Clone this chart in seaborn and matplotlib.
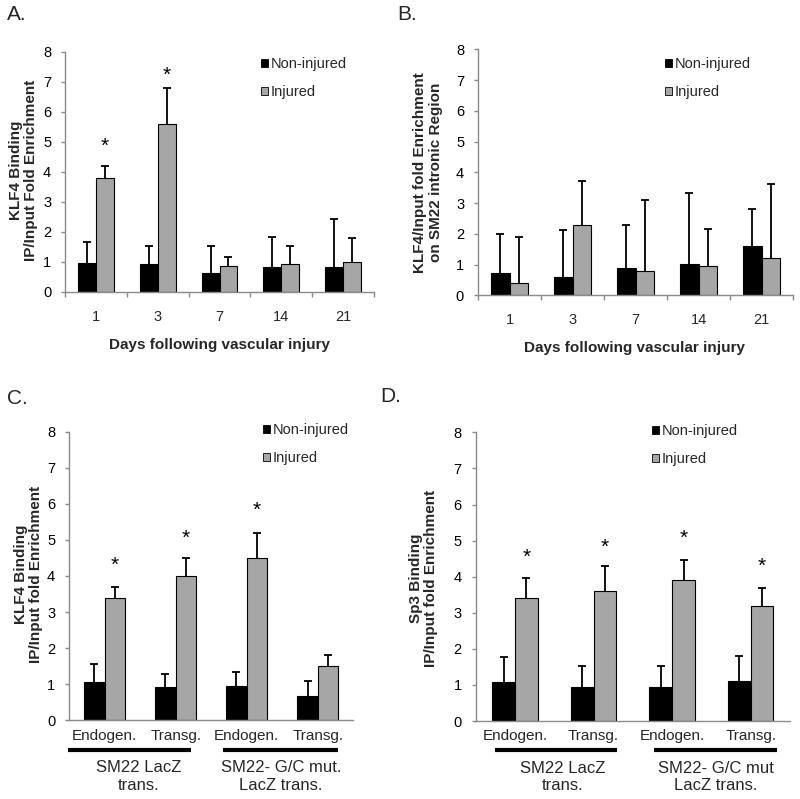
import matplotlib
matplotlib.use("Agg")
import matplotlib.pyplot as plt
import matplotlib.transforms as mtransforms
from matplotlib.patches import Patch
import numpy as np
import pandas as pd
import seaborn as sns

# ---------------- data ----------------
conditions = ["Non-injured", "Injured"]

A_days = ["1", "3", "7", "14", "21"]
A_non = [0.96, 0.93, 0.63, 0.82, 0.83]
A_non_top = [1.67, 1.53, 1.53, 1.81, 2.43]
A_inj = [3.79, 5.60, 0.86, 0.91, 0.98]
A_inj_top = [4.19, 6.80, 1.16, 1.51, 1.78]
A_star = [4.85, 7.2, None, None, None]

B_days = ["1", "3", "7", "14", "21"]
B_non = [0.71, 0.61, 0.90, 1.01, 1.61]
B_non_top = [2.00, 2.11, 2.30, 3.32, 2.80]
B_inj = [0.40, 2.30, 0.80, 0.95, 1.21]
B_inj_top = [1.90, 3.71, 3.11, 2.15, 3.62]

group_ids = ["LacZ Endogen.", "LacZ Transg.", "Mut Endogen.", "Mut Transg."]
group_ticklabels = ["Endogen.", "Transg.", "Endogen.", "Transg."]

C_non = [1.07, 0.93, 0.95, 0.67]
C_non_top = [1.57, 1.27, 1.35, 1.10]
C_inj = [3.40, 4.00, 4.50, 1.50]
C_inj_top = [3.70, 4.50, 5.20, 1.80]
C_star = [4.3, 5.04, 5.83, None]
C_groups = ["SM22 LacZ\ntrans.", "SM22- G/C mut.\nLacZ trans."]

D_non = [1.08, 0.93, 0.95, 1.10]
D_non_top = [1.78, 1.53, 1.52, 1.80]
D_inj = [3.40, 3.60, 3.90, 3.20]
D_inj_top = [3.97, 4.30, 4.47, 3.70]
D_star = [4.55, 4.8, 5.06, 4.3]
D_groups = ["SM22 LacZ\ntrans.", "SM22- G/C mut\nLacZ trans."]

# ---------------- style ----------------
sns.set_theme(style="white")
plt.rcParams["font.family"] = ["Liberation Sans", "DejaVu Sans"]

BLACK = "#000000"
GRAY = "#a6a6a6"
SPINE = "#8a8a8a"
palette = {"Non-injured": BLACK, "Injured": GRAY}
LABEL_FS = 11
TICK_FS = 10.5

fig = plt.figure(figsize=(8, 7.99), dpi=100)

axA = fig.add_axes([0.0813, 0.6349, 0.3862, 0.3004])
axB = fig.add_axes([0.5975, 0.6304, 0.3938, 0.3079])
axC = fig.add_axes([0.0863, 0.0985, 0.3554, 0.3612])
axD = fig.add_axes([0.5946, 0.0976, 0.3929, 0.3613])


def draw_panel(ax, cats, non, non_top, inj, inj_top, stars=None):
    n = len(cats)
    df = pd.DataFrame({
        "cat": list(cats) * 2,
        "cond": ["Non-injured"] * n + ["Injured"] * n,
        "val": list(non) + list(inj),
    })
    sns.barplot(data=df, x="cat", y="val", hue="cond", order=list(cats),
                hue_order=conditions, palette=palette, width=0.58,
                edgecolor="black", linewidth=0.8, errorbar=None,
                legend=False, ax=ax, zorder=2)
    for cont, vals, tops in zip(ax.containers[:2], [non, inj], [non_top, inj_top]):
        xs = [b.get_x() + b.get_width() / 2 for b in cont]
        vals = np.asarray(vals, dtype=float)
        tops = np.asarray(tops, dtype=float)
        eb = ax.errorbar(xs, vals, yerr=[np.zeros_like(vals), tops - vals],
                         fmt="none", ecolor="black", elinewidth=1.3,
                         capsize=3, capthick=1.3, zorder=3)
        # keep only the upper caps
        for cap in eb[1]:
            if np.allclose(np.asarray(cap.get_ydata(), dtype=float), vals):
                cap.set_visible(False)
    if stars is not None:
        xs = [b.get_x() + b.get_width() / 2 for b in ax.containers[1]]
        for x, s in zip(xs, stars):
            if s is not None:
                ax.text(x, s, "*", ha="center", va="center", fontsize=15,
                        color="black")
    ax.set_ylim(0, 8)
    ax.set_xlim(-0.5, n - 0.5)
    ax.set_yticks(range(0, 9))
    ax.set_xlabel("")
    ax.set_ylabel("")
    for side in ["top", "right"]:
        ax.spines[side].set_visible(False)
    for side in ["left", "bottom"]:
        ax.spines[side].set_color(SPINE)
        ax.spines[side].set_linewidth(1.0)
    ax.tick_params(axis="y", which="major", left=True, length=3, width=1,
                   color=SPINE, labelsize=TICK_FS, pad=7, labelcolor="black")
    leg_handles = [Patch(facecolor=palette[c], edgecolor="black", linewidth=0.6)
                   for c in conditions]
    return leg_handles


def add_legend(ax, handles, x_px, y_px):
    ax.legend(handles, conditions, loc="upper left",
              bbox_to_anchor=(x_px / 800, 1 - y_px / 799),
              bbox_transform=fig.transFigure, frameon=False, fontsize=10.5,
              handlelength=0.5, handleheight=0.5, handletextpad=0.15,
              labelspacing=0.95, borderpad=0, borderaxespad=0)


# ----- Panel A -----
h = draw_panel(axA, A_days, A_non, A_non_top, A_inj, A_inj_top, A_star)
axA.set_xticks(range(len(A_days)))
axA.set_xticklabels(A_days)
axA.set_xticks(np.arange(-0.5, len(A_days)), minor=True)
axA.tick_params(axis="x", which="major", length=0, labelsize=TICK_FS, pad=13)
axA.tick_params(axis="x", which="minor", bottom=True, length=3.5, width=1, color=SPINE)
axA.set_ylabel("KLF4 Binding\nIP/Input Fold Enrichment", fontsize=LABEL_FS,
               fontweight="bold", linespacing=1.15, va="center")
axA.yaxis.set_label_coords(-0.134, 0.505)
axA.set_xlabel("Days following vascular injury", fontsize=LABEL_FS, fontweight="bold")
axA.xaxis.set_label_coords(0.5, -0.222)
axA.xaxis.label.set_va("center")
add_legend(axA, h, 261, 57)

# ----- Panel B -----
h = draw_panel(axB, B_days, B_non, B_non_top, B_inj, B_inj_top)
axB.set_xticks(range(len(B_days)))
axB.set_xticklabels(B_days)
axB.set_xticks(np.arange(-0.5, len(B_days)), minor=True)
axB.tick_params(axis="x", which="major", length=0, labelsize=TICK_FS, pad=13)
axB.tick_params(axis="x", which="minor", bottom=True, length=3.5, width=1, color=SPINE)
axB.set_ylabel("KLF4/Input fold Enrichment\non SM22 intronic Region", fontsize=LABEL_FS,
               fontweight="bold", linespacing=1.15, va="center")
axB.yaxis.set_label_coords(-0.159, 0.5)
axB.set_xlabel("Days following vascular injury", fontsize=LABEL_FS, fontweight="bold")
axB.xaxis.set_label_coords(0.498, -0.213)
axB.xaxis.label.set_va("center")
add_legend(axB, h, 665, 57)


def group_axis(ax, groups, spans, centers, line_y, text_y):
    trans = mtransforms.blended_transform_factory(ax.transData, ax.transAxes)
    for (x0, x1) in spans:
        ax.plot([x0, x1], [line_y, line_y], color="black", lw=3,
                transform=trans, clip_on=False, solid_capstyle="butt")
    for g, cx in zip(groups, centers):
        ax.text(cx, text_y, g, transform=trans, ha="center", va="center",
                fontsize=12, linespacing=1.2)


# ----- Panel C -----
h = draw_panel(axC, group_ids, C_non, C_non_top, C_inj, C_inj_top, C_star)
axC.set_xticks(range(len(group_ids)))
axC.set_xticklabels(group_ticklabels)
axC.tick_params(axis="x", which="major", length=0, labelsize=11, pad=6)
axC.set_ylabel("KLF4 Binding\nIP/Input fold Enrichment", fontsize=LABEL_FS,
               fontweight="bold", linespacing=1.15, va="center")
axC.yaxis.set_label_coords(-0.142, 0.507)
group_axis(axC, C_groups, [(-0.51, 1.21), (1.66, 3.29)], [0.48, 2.48], -0.103, -0.195)
add_legend(axC, h, 263, 423)

# ----- Panel D -----
h = draw_panel(axD, group_ids, D_non, D_non_top, D_inj, D_inj_top, D_star)
axD.set_xticks(range(len(group_ids)))
axD.set_xticklabels(group_ticklabels)
axD.tick_params(axis="x", which="major", length=0, labelsize=11, pad=6)
axD.set_ylabel("Sp3 Binding\nIP/Input fold Enrichment", fontsize=LABEL_FS,
               fontweight="bold", linespacing=1.15, va="center")
axD.yaxis.set_label_coords(-0.166, 0.495)
group_axis(axD, D_groups, [(-0.25, 1.30), (1.77, 3.33)], [0.61, 2.56], -0.10, -0.193)
add_legend(axD, h, 652, 424)

# ----- panel letters -----
for lab, x, y in [("A.", 7, 15), ("B.", 397, 15), ("C.", 7, 398), ("D.", 380, 397)]:
    fig.text(x / 800, 1 - y / 799, lab, fontsize=15, ha="left", va="center")

fig.savefig("out.png", dpi=100)
